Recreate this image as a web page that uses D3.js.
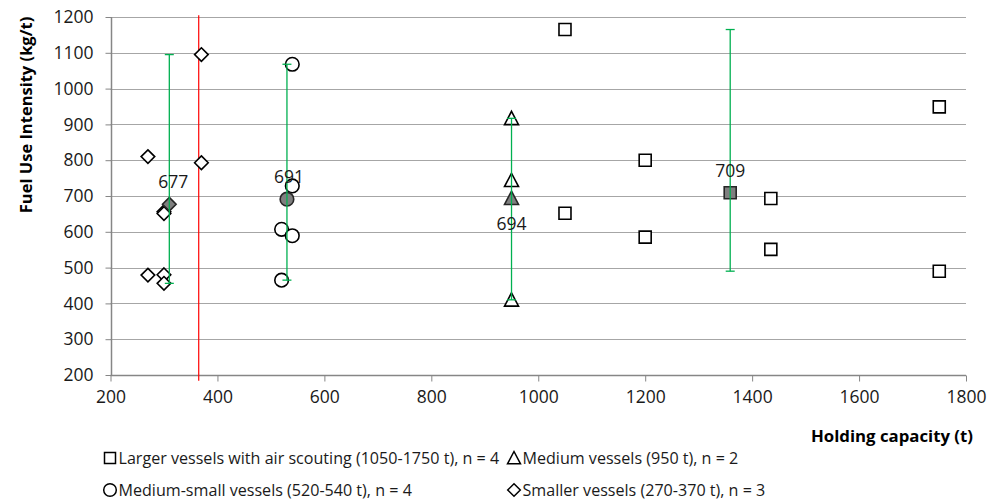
<!DOCTYPE html>
<html><head><meta charset="utf-8">
<script src="https://cdn.jsdelivr.net/npm/d3@7"></script>
<style>
html,body{margin:0;padding:0;background:#fff;}
svg{display:block;font-family:"Open Sans",sans-serif;}
</style></head>
<body>
<svg id="chart" width="987" height="501"></svg>
<script>
// ---- data ----
const seriesNames = [
  "Larger vessels with air scouting (1050-1750 t), n = 4",
  "Medium vessels (950 t), n = 2",
  "Medium-small vessels (520-540 t), n = 4",
  "Smaller vessels (270-370 t), n = 3"
];
const largerX = [1050, 1050, 1200, 1200, 1435, 1435, 1750, 1750];
const largerY = [1165, 652, 800, 585, 693, 551, 949, 490];
const mediumX = [950, 950, 950];
const mediumY = [917, 744, 410];
const medSmallX = [540, 540, 520, 540, 520];
const medSmallY = [1068, 728, 607, 589, 465];
const smallerX = [270, 270, 370, 370, 300, 300, 300, 300];
const smallerY = [810, 479, 1095, 793, 656, 651, 480, 456];
const meanX = [1359, 950, 530, 310];
const meanY = [709, 694, 691, 677];
const errLow = [490, 410, 465, 456];
const errHigh = [1165, 917, 1068, 1095];
const thresholdX = 365;
const xTicks = [200, 400, 600, 800, 1000, 1200, 1400, 1600, 1800];
const yTicks = [200, 300, 400, 500, 600, 700, 800, 900, 1000, 1100, 1200];
const xTitle = "Holding capacity (t)";
const yTitle = "Fuel Use Intensity (kg/t)";

// ---- layout ----
const svg = d3.select("#chart");
const mLeft = 110.5, mRight = 966, mTop = 17, mBottom = 375;
const x = d3.scaleLinear().domain([200, 1800]).range([mLeft, mRight]);
const y = d3.scaleLinear().domain([200, 1200]).range([mBottom, mTop]);
const FONT = 17.5;

// gridlines
svg.append("g").selectAll("line").data(yTicks.filter(t => t > 200)).join("line")
  .attr("x1", mLeft).attr("x2", mRight)
  .attr("y1", d => Math.round(y(d)) + 0.5).attr("y2", d => Math.round(y(d)) + 0.5)
  .attr("stroke", "#a6a6a6").attr("stroke-width", 1);

// axes
const xAxis = svg.append("g").attr("transform", `translate(0,${Math.round(y(200)) + 0.5})`)
  .call(d3.axisBottom(x).tickValues(xTicks).tickSize(6).tickPadding(9).tickFormat(d3.format("d")));
const yAxis = svg.append("g").attr("transform", `translate(${Math.round(mLeft) + 0.5},0)`)
  .call(d3.axisLeft(y).tickValues(yTicks).tickSize(6).tickPadding(12).tickFormat(d3.format("d")));
[xAxis, yAxis].forEach(a => {
  a.select(".domain").attr("stroke", "#868686").attr("stroke-width", 1.5);
  a.selectAll(".tick line").attr("stroke", "#868686");
  a.selectAll(".tick text").attr("font-size", FONT).attr("fill", "#1a1a1a")
    .attr("font-family", "'Open Sans',sans-serif");
});
xAxis.select(".domain").attr("d", `M${mLeft},0H${mRight}`);
yAxis.select(".domain").attr("d", `M0,${y(1200)}V${y(200)}`);

// red threshold line
svg.append("line")
  .attr("x1", x(thresholdX)).attr("x2", x(thresholdX))
  .attr("y1", y(1205)).attr("y2", y(184))
  .attr("stroke", "#ff0000").attr("stroke-width", 1.2);

// marker paths
const shapes = {
  square: s => `M${-s},${-s}H${s}V${s}H${-s}Z`,
  triangle: s => `M0,${-s}L${s},${s * 0.9}H${-s}Z`,
  circle: s => `M${s},0A${s},${s} 0 1,1 ${-s},0A${s},${s} 0 1,1 ${s},0Z`,
  diamond: s => `M0,${-s}L${s},0L0,${s}L${-s},0Z`
};
const shapeSize = {square: 6, triangle: 7, circle: 6.8, diamond: 6.8};
const shapeOrder = ["square", "triangle", "circle", "diamond"];
const seriesX = [largerX, mediumX, medSmallX, smallerX];
const seriesY = [largerY, mediumY, medSmallY, smallerY];

const pts = svg.append("g");
seriesX.forEach((xs, i) => {
  const sh = shapeOrder[i];
  pts.selectAll(null).data(xs.map((v, j) => [v, seriesY[i][j]])).join("path")
    .attr("transform", d => `translate(${x(d[0])},${y(d[1])})`)
    .attr("d", shapes[sh](shapeSize[sh]))
    .attr("fill", "#fff").attr("stroke", "#000").attr("stroke-width", 1.6);
});

// mean markers
meanX.forEach((mx, i) => {
  const sh = shapeOrder[i];
  pts.append("path")
    .attr("transform", `translate(${x(mx)},${y(meanY[i])})`)
    .attr("d", shapes[sh](shapeSize[sh]))
    .attr("fill", "#7f7f7f").attr("stroke", "#262626").attr("stroke-width", 1.6);
});

// error bars (min-max)
const eb = svg.append("g").attr("stroke", "#00b050").attr("stroke-width", 1.3);
meanX.forEach((mx, i) => {
  const cx = x(mx);
  eb.append("line").attr("x1", cx).attr("x2", cx).attr("y1", y(errLow[i])).attr("y2", y(errHigh[i]));
  [errLow[i], errHigh[i]].forEach(v => {
    eb.append("line").attr("x1", cx - 4.5).attr("x2", cx + 4.5).attr("y1", y(v)).attr("y2", y(v));
  });
});

// mean labels
meanX.forEach((mx, i) => {
  const below = i === 1;
  svg.append("text")
    .attr("x", x(mx) + (i === 3 ? 4 : (i === 2 ? 2 : 0)))
    .attr("y", y(meanY[i]) + (below ? 32 : -16))
    .attr("text-anchor", "middle").attr("font-size", FONT).attr("fill", "#1a1a1a")
    .text(meanY[i]);
});

// axis titles
svg.append("text").attr("x", 973).attr("y", 442).attr("text-anchor", "end")
  .attr("font-size", 16.8).attr("font-weight", "bold").attr("fill", "#000").text(xTitle);
svg.append("text").attr("transform", "translate(32,115) rotate(-90)").attr("text-anchor", "middle")
  .attr("font-size", 16.5).attr("font-weight", "bold").attr("fill", "#000").text(yTitle);

// legend
const legendPos = [[110, 458], [514, 458], [110, 490], [514, 490]];
seriesNames.forEach((name, i) => {
  const sh = shapeOrder[i];
  const [lx, ly] = legendPos[i];
  const g = svg.append("g").attr("transform", `translate(${lx},${ly})`);
  g.append("path").attr("d", shapes[sh](shapeSize[sh] - 0.5))
    .attr("fill", "#fff").attr("stroke", "#000").attr("stroke-width", 1.5);
  g.append("text").attr("x", 8.5).attr("y", 5.8).attr("font-size", 16.1).attr("fill", "#1a1a1a").text(name);
});
</script>
</body></html>
